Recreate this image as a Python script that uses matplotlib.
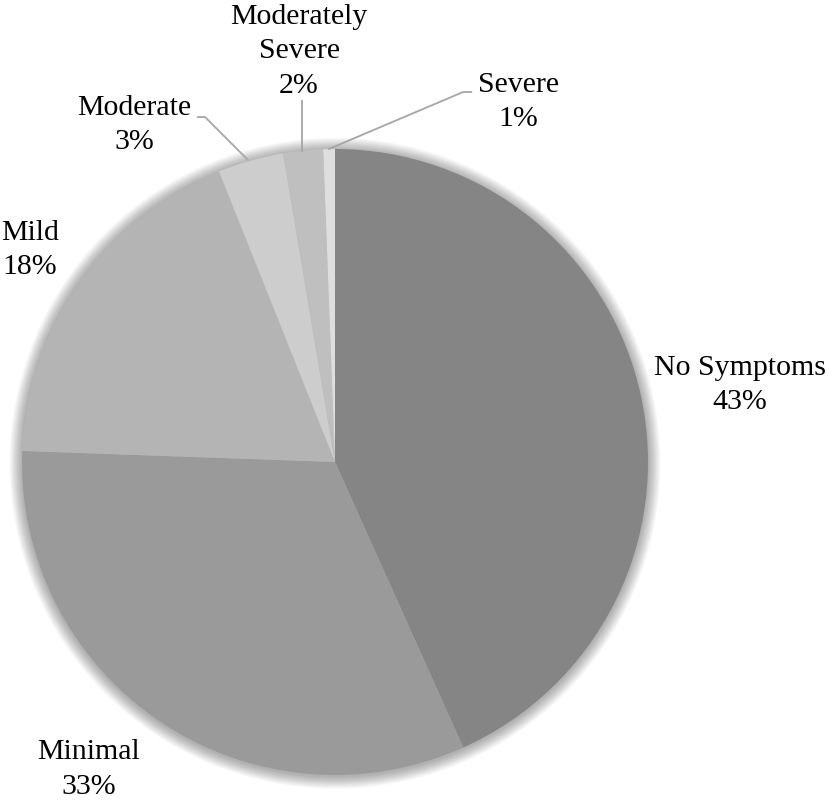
import matplotlib
matplotlib.use("Agg")
import matplotlib.pyplot as plt
from matplotlib.patches import Circle

categories = ["No Symptoms", "Minimal", "Mild", "Moderate", "Moderately\nSevere", "Severe"]
values = [43.3, 32.3, 18.4, 3.4, 2.05, 0.6]
pct_labels = ["43%", "33%", "18%", "3%", "2%", "1%"]
colors = ["#858585", "#9a9a9a", "#b4b4b4", "#cdcdcd", "#bfbfbf", "#dedede"]

# label positions (data coords, pie radius = 1)
label_pos = [(1.294, 0.246), (-0.786, -0.982), (-0.974, 0.677),
             (-0.642, 1.077), (-0.115, 1.312), (0.585, 1.150)]
# leader lines for small slices
leaders = {
    3: [(-0.278, 0.965), (-0.415, 1.102), (-0.441, 1.102)],
    4: [(-0.105, 0.99), (-0.105, 1.155)],
    5: [(-0.022, 0.999), (0.409, 1.182), (0.438, 1.182)],
}

fig = plt.figure(figsize=(8.29, 8.01), dpi=100)
ax = fig.add_axes([0, 0, 1, 1])

# soft shadow
n = 14
for i in range(n):
    r = 1.0 + 0.04 * (n - i) / n
    ax.add_patch(Circle((0, -0.004), r, color="#000000", alpha=0.022, lw=0, zorder=0))

wedges, _ = ax.pie(values, colors=colors, startangle=90, counterclock=False,
                   radius=1.0, center=(0, 0), frame=True,
                   wedgeprops=dict(linewidth=0))
for w in wedges:
    w.set_zorder(2)
ax.set_xlim(-335 / 313, (829 - 335) / 313)
ax.set_ylim((462 - 801) / 313, 462 / 313)
ax.set_aspect("auto")
ax.axis("off")

for i, (cat, pct) in enumerate(zip(categories, pct_labels)):
    x, y = label_pos[i]
    ax.text(x, y, f"{cat}\n{pct}", ha="center", va="center",
            fontfamily="Liberation Serif", fontsize=21.5, linespacing=1.42,
            color="black", zorder=5)

for i, pts in leaders.items():
    xs = [p[0] for p in pts]
    ys = [p[1] for p in pts]
    ax.plot(xs, ys, color="#a6a6a6", lw=1.3, zorder=4, solid_capstyle="butt")

fig.savefig("out.png", dpi=100, facecolor="white")
